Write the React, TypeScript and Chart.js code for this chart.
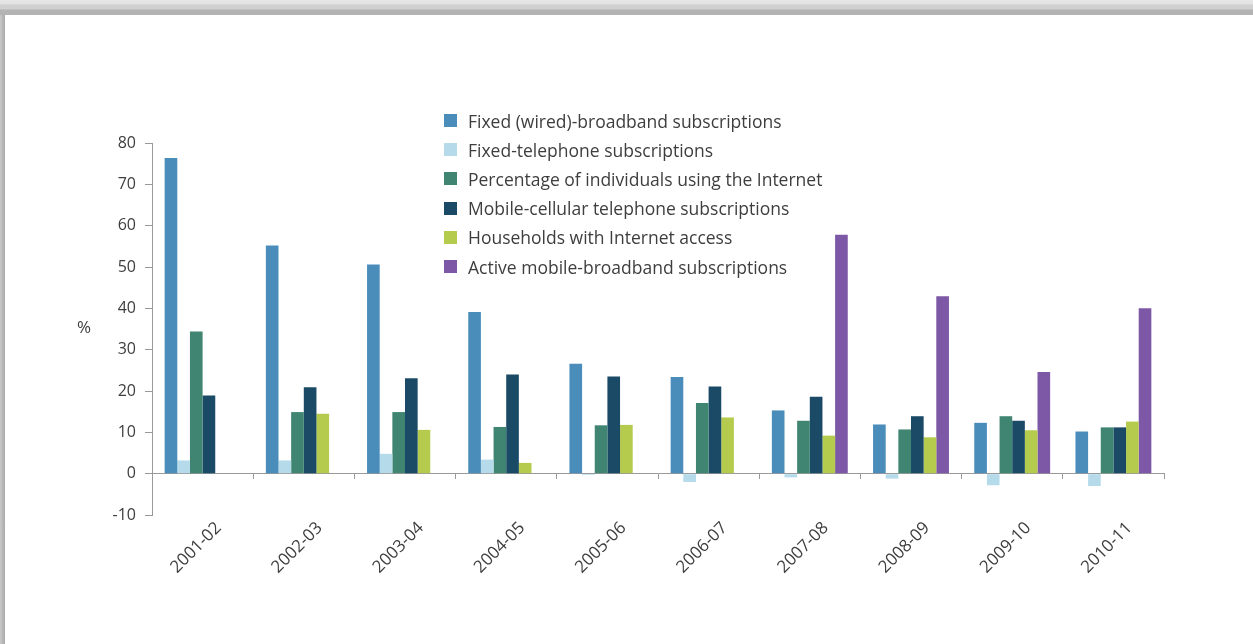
import React, { useEffect, useRef } from "react";
import { Chart, registerables } from "chart.js";

Chart.register(...registerables);

const categories = ["2001-02", "2002-03", "2003-04", "2004-05", "2005-06", "2006-07", "2007-08", "2008-09", "2009-10", "2010-11"];

const fixedBroadband = [76.4, 55.2, 50.6, 39.1, 26.6, 23.4, 15.3, 11.9, 12.3, 10.2];
const fixedTelephone = [3.2, 3.2, 4.8, 3.4, -0.3, -2.0, -0.9, -1.2, -2.8, -3.0];
const individualsInternet = [34.4, 14.9, 14.9, 11.3, 11.7, 17.1, 12.8, 10.7, 13.9, 11.2];
const mobileCellular = [18.9, 20.9, 23.1, 24.0, 23.5, 21.1, 18.6, 13.9, 12.8, 11.2];
const householdsInternet = [null, 14.5, 10.6, 2.6, 11.8, 13.6, 9.2, 8.8, 10.5, 12.6];
const activeMobileBroadband = [null, null, null, null, null, null, 57.8, 42.9, 24.6, 40.0];

const yTicks = [-10, 0, 10, 20, 30, 40, 50, 60, 70, 80];

const seriesNames = [
  "Fixed (wired)-broadband subscriptions",
  "Fixed-telephone subscriptions",
  "Percentage of individuals using the Internet",
  "Mobile-cellular telephone subscriptions",
  "Households with Internet access",
  "Active mobile-broadband subscriptions",
];
const seriesValues = [fixedBroadband, fixedTelephone, individualsInternet, mobileCellular, householdsInternet, activeMobileBroadband];
const seriesColors = ["#4a8dba", "#b5dbeb", "#3f8571", "#1b4a66", "#b4cb4d", "#7c58a6"];

const FONT = "'Open Sans', sans-serif";
const TEXT = "#3e3e3e";

export default function App() {
  const ref = useRef<HTMLCanvasElement | null>(null);

  useEffect(() => {
    const canvas = ref.current;
    if (!canvas) return;
    const chart = new Chart(canvas, {
      type: "bar",
      data: {
        labels: categories,
        datasets: seriesNames.map((name, i) => ({
          label: name,
          data: seriesValues[i],
          backgroundColor: seriesColors[i],
          borderWidth: 0,
          xAxisID: "x",
          yAxisID: "y",
          categoryPercentage: 0.75,
          barPercentage: 1.0,
        })),
      },
      options: {
        animation: false,
        responsive: false,
        layout: { padding: { left: 60, top: 143, right: 89, bottom: 49 } },
        plugins: { legend: { display: false }, tooltip: { enabled: false } },
        scales: {
          x: {
            type: "category",
            position: { y: 0 } as any,
            offset: true,
            grid: { display: true, drawOnChartArea: false, drawTicks: true, tickLength: 5, color: "#9a9a9a", offset: true },
            border: { display: true, color: "#9a9a9a", width: 1 },
            ticks: { display: false },
            afterFit: (s: any) => { s.height = 0; },
          },
          x2: {
            type: "category",
            position: "bottom",
            offset: true,
            grid: { display: false, drawTicks: false },
            border: { display: false },
            ticks: { minRotation: 45, maxRotation: 45, padding: 3, labelOffset: 16, color: TEXT, font: { family: FONT, size: 17 } },
            afterFit: (s: any) => { s.height = 80; },
          },
          y: {
            type: "linear",
            min: -10,
            max: 80,
            afterBuildTicks: (s: any) => { s.ticks = yTicks.map((v) => ({ value: v })); },
            grid: { display: true, drawOnChartArea: false, drawTicks: true, tickLength: 7, color: "#9a9a9a" },
            border: { display: true, color: "#9a9a9a", width: 1 },
            ticks: { padding: 9, color: TEXT, font: { family: FONT, size: 16 } },
            afterFit: (s: any) => { s.width = 92; },
          },
        },
      },
    });
    return () => chart.destroy();
  }, []);

  return (
    <div style={{ position: "fixed", left: 0, top: 0, width: 1253, height: 644, background: "#ffffff", overflow: "hidden", fontFamily: FONT }}>
      <canvas ref={ref} width={1253} height={644} style={{ position: "absolute", left: 0, top: 0 }} />
      <div style={{ position: "absolute", left: 0, top: 0, width: 1253, height: 15, background: "linear-gradient(#e8e8e8 0px, #e2e2e2 4px, #d0d0d0 5px, #d0d0d0 9px, #b3b3b3 10px, #b3b3b3 15px)" }} />
      <div style={{ position: "absolute", left: 0, top: 15, width: 5, height: 629, background: "linear-gradient(90deg, #c8c8c8, #a9a9a9)" }} />
      <div style={{ position: "absolute", left: 77, top: 315, fontSize: 17, color: TEXT }}>%</div>
      <div style={{ position: "absolute", left: 444, top: 106 }}>
        {seriesNames.map((name, i) => (
          <div key={name} style={{ display: "flex", alignItems: "center", height: 29.2 }}>
            <span style={{ display: "inline-block", width: 13, height: 13, background: seriesColors[i], marginRight: 11 }} />
            <span style={{ fontSize: 17.5, color: TEXT, whiteSpace: "nowrap" }}>{name}</span>
          </div>
        ))}
      </div>
    </div>
  );
}
